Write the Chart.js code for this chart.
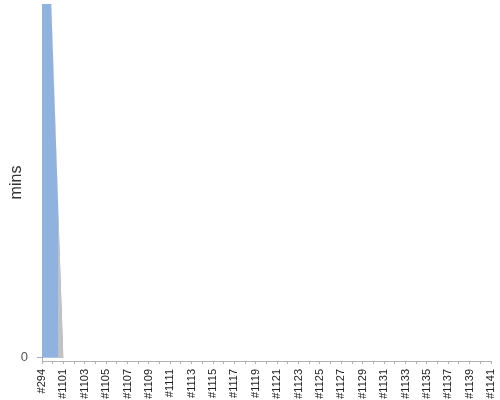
<!DOCTYPE html>
<html>
<head>
<meta charset="utf-8">
<script src="https://cdn.jsdelivr.net/npm/chart.js@4"></script>
<style>
  html, body { margin: 0; padding: 0; background: #fff; }
  #c { display: block; }
</style>
</head>
<body>
<canvas id="c" width="500" height="400"></canvas>
<script>
const labels = ['#294','#1100','#1101','#1102','#1103','#1104','#1105','#1106','#1107','#1108','#1109','#1110','#1111','#1112','#1113','#1114','#1115','#1116','#1117','#1118','#1119','#1120','#1121','#1122','#1123','#1124','#1125','#1126','#1127','#1128','#1129','#1130','#1131','#1132','#1133','#1134','#1135','#1136','#1137','#1138','#1139','#1140','#1141'];
const blueMins = [177, 88, 0, 0, 0, 0, 0, 0, 0, 0, 0, 0, 0, 0, 0, 0, 0, 0, 0, 0, 0, 0, 0, 0, 0, 0, 0, 0, 0, 0, 0, 0, 0, 0, 0, 0, 0, 0, 0, 0, 0, 0, 0];
const greyMins = [200, 200, 0, 0, 0, 0, 0, 0, 0, 0, 0, 0, 0, 0, 0, 0, 0, 0, 0, 0, 0, 0, 0, 0, 0, 0, 0, 0, 0, 0, 0, 0, 0, 0, 0, 0, 0, 0, 0, 0, 0, 0, 0];
const yTickValues = [0];

Chart.defaults.font.family = "'Liberation Sans', Arial, sans-serif";

new Chart(document.getElementById('c'), {
  type: 'line',
  data: {
    labels: labels,
    datasets: [
      {
        label: 'grey',
        data: greyMins,
        stepped: 'middle',
        borderWidth: 0,
        borderColor: 'rgba(0,0,0,0)',
        pointRadius: 0,
        fill: { target: 1, above: 'rgba(0,0,0,0)', below: '#c2c2c2' }
      },
      {
        label: 'blue',
        data: blueMins,
        borderWidth: 0,
        borderColor: 'rgba(0,0,0,0)',
        pointRadius: 0,
        backgroundColor: '#8fb2de',
        fill: 'origin'
      }
    ]
  },
  options: {
    responsive: false,
    animation: false,
    layout: { padding: { top: 4, right: 9, left: 0, bottom: 0 } },
    plugins: { legend: { display: false }, tooltip: { enabled: false } },
    scales: {
      x: {
        offset: false,
        grid: { drawOnChartArea: false, tickLength: 3, color: '#b0b0b0' },
        border: { color: '#b0b0b0' },
        ticks: {
          autoSkip: false, minRotation: 90, maxRotation: 90, padding: 5,
          font: { size: 11 }, color: '#222',
          callback: function(v, i) { return i % 2 === 0 ? labels[i] : ''; }
        },
        afterFit: function(s) { s.height = 39; s.paddingLeft = 0; s.paddingRight = 0; }
      },
      y: {
        min: -0.93, max: 100,
        afterBuildTicks: function(s) { s.ticks = yTickValues.map(function(v) { return { value: v }; }); },
        grid: { drawOnChartArea: false, tickLength: 5, color: '#b0b0b0' },
        border: { color: '#b0b0b0' },
        ticks: { padding: 9, font: { size: 13 }, color: '#555' },
        title: { display: true, text: 'mins', font: { size: 16 }, color: '#333', padding: { top: 7, bottom: 0 } },
        afterFit: function(s) { s.width = 42; s.paddingTop = 0; s.paddingBottom = 0; }
      }
    }
  }
});
</script>
</body>
</html>
